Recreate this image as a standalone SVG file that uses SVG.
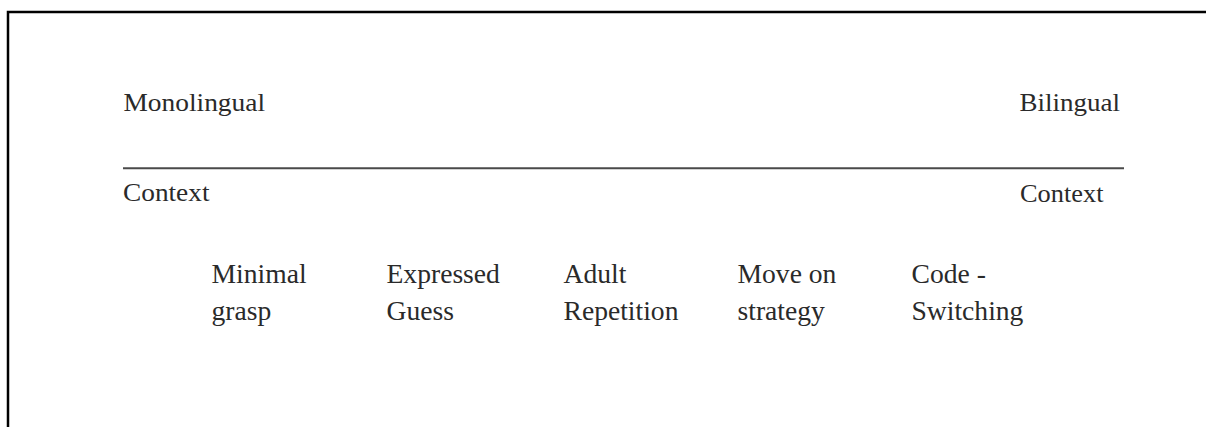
<svg xmlns="http://www.w3.org/2000/svg" width="1206" height="427" viewBox="0 0 1206 427">
  <style>
    .t { font-family: "Liberation Serif", "Times New Roman", serif; fill: #2a2a2a; }
    .end { font-size: 25px; }
    .item { font-size: 27.6px; }
    .frame { stroke: #000; stroke-width: 2.5; fill: none; }
    .axis { stroke: #4a4a4a; stroke-width: 2; }
  </style>
  <rect width="1206" height="427" fill="#fff"/>
  <g id="frame">
    <path class="frame" d="M8 428 V12 H1207"/>
  </g>
  <g id="connectors">
    <line class="axis" x1="123" y1="168.3" x2="1124" y2="168.3"/>
  </g>
  <g id="node-monolingual">
    <text class="t end" x="123.5" y="111" textLength="141.5" lengthAdjust="spacingAndGlyphs">Monolingual</text>
    <text class="t end" x="123" y="201" textLength="86.5" lengthAdjust="spacingAndGlyphs">Context</text>
  </g>
  <g id="node-bilingual">
    <text class="t end" x="1019.5" y="111" textLength="100.5" lengthAdjust="spacingAndGlyphs">Bilingual</text>
    <text class="t end" x="1020" y="201.5" textLength="83.5" lengthAdjust="spacingAndGlyphs">Context</text>
  </g>
  <g id="node-minimal-grasp">
    <text class="t item" x="211.5" y="283">Minimal</text>
    <text class="t item" x="211.5" y="320">grasp</text>
  </g>
  <g id="node-expressed-guess">
    <text class="t item" x="386.5" y="283">Expressed</text>
    <text class="t item" x="386.5" y="320">Guess</text>
  </g>
  <g id="node-adult-repetition">
    <text class="t item" x="563.5" y="283">Adult</text>
    <text class="t item" x="563.5" y="320">Repetition</text>
  </g>
  <g id="node-move-on-strategy">
    <text class="t item" x="737.5" y="283">Move on</text>
    <text class="t item" x="737.5" y="320">strategy</text>
  </g>
  <g id="node-code-switching">
    <text class="t item" x="911.5" y="283">Code -</text>
    <text class="t item" x="911.5" y="320">Switching</text>
  </g>
</svg>
